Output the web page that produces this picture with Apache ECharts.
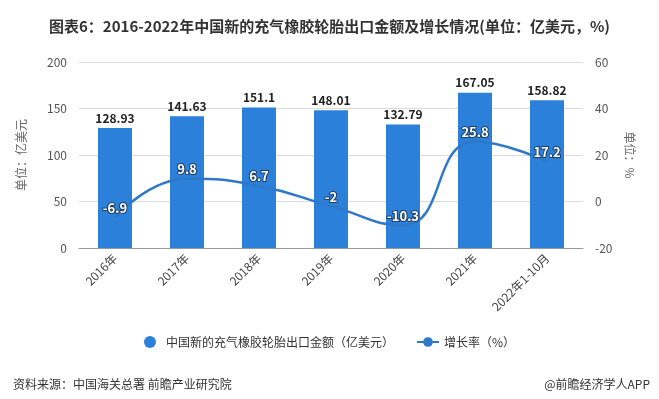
<!DOCTYPE html>
<html>
<head>
<meta charset="utf-8">
<script src="https://cdn.jsdelivr.net/npm/echarts@6/dist/echarts.min.js"></script>
<style>
  html, body { margin: 0; padding: 0; background: #fff; }
  #chart { width: 659px; height: 399px; }
</style>
</head>
<body>
<div id="chart"></div>
<script>
// 数据
var categories = ['2016年', '2017年', '2018年', '2019年', '2020年', '2021年', '2022年1-10月'];
var exportValues = [128.93, 141.63, 151.1, 148.01, 132.79, 167.05, 158.82];
var growthRates = [-6.9, 9.8, 6.7, -2, -10.3, 25.8, 17.2];
var barName = '中国新的充气橡胶轮胎出口金额（亿美元）';
var lineName = '增长率（%）';

var font = '"Noto Sans CJK SC", "Microsoft YaHei", sans-serif';
var blue = '#2b80da';

var myChart = echarts.init(document.getElementById('chart'));
var option = {
  textStyle: { fontFamily: font },
  title: [
    {
      text: '图表6：2016-2022年中国新的充气橡胶轮胎出口金额及增长情况(单位：亿美元，%)',
      left: 'center',
      top: 14,
      textStyle: { fontSize: 15, fontWeight: 'bold', color: '#333', fontFamily: font }
    },
    {
      text: '资料来源：中国海关总署 前瞻产业研究院',
      left: 8,
      top: 373,
      textStyle: { fontSize: 12, fontWeight: 'normal', color: '#333', fontFamily: font }
    },
    {
      text: '@前瞻经济学人APP',
      right: 4,
      top: 373,
      textStyle: { fontSize: 12, fontWeight: 'normal', color: '#333', fontFamily: font }
    }
  ],
  grid: { left: 79, right: 76, top: 62, bottom: 151 },
  legend: {
    bottom: 46,
    left: 'center',
    itemGap: 22,
    itemWidth: 22,
    itemHeight: 12,
    textStyle: { fontSize: 12, color: '#333', fontFamily: font },
    data: [
      { name: barName, icon: 'circle' },
      { name: lineName }
    ]
  },
  xAxis: {
    type: 'category',
    data: categories,
    axisLine: { lineStyle: { color: '#999' } },
    axisTick: { alignWithLabel: true, lineStyle: { color: '#999' } },
    axisLabel: { rotate: 45, color: '#444', fontSize: 12, margin: 8 }
  },
  yAxis: [
    {
      type: 'value',
      min: 0, max: 200, interval: 50,
      name: '单位：亿美元',
      nameLocation: 'middle',
      nameGap: 52,
      nameTextStyle: { color: '#666', fontSize: 12 },
      axisLabel: { color: '#555', fontSize: 12, margin: 12 },
      axisLine: { show: false },
      axisTick: { show: false },
      splitLine: { lineStyle: { color: '#dcdcdc' } }
    },
    {
      type: 'value',
      min: -20, max: 60, interval: 20,
      name: '单位：%',
      nameLocation: 'middle',
      nameRotate: -90,
      nameGap: 40,
      nameTextStyle: { color: '#666', fontSize: 12 },
      axisLabel: { color: '#555', fontSize: 12, margin: 12 },
      axisLine: { show: false },
      axisTick: { show: false },
      splitLine: { show: false }
    }
  ],
  series: [
    {
      name: barName,
      type: 'bar',
      data: exportValues,
      barWidth: 34,
      itemStyle: { color: blue },
      label: {
        show: true,
        position: 'top',
        distance: 4,
        color: '#222',
        fontWeight: 'bold',
        fontSize: 12
      }
    },
    {
      name: lineName,
      type: 'line',
      yAxisIndex: 1,
      data: growthRates,
      smooth: true,
      showSymbol: true,
      symbol: 'circle',
      symbolSize: 0.1,
      itemStyle: { color: '#2f78c9' },
      lineStyle: { color: '#2f78c9', width: 2.5 },
      label: {
        show: true,
        position: 'top',
        distance: 3,
        color: '#fff',
        fontWeight: 'bold',
        fontSize: 13,
        textBorderColor: '#1d3f66',
        textBorderWidth: 2
      }
    }
  ]
};
myChart.setOption(option);
</script>
</body>
</html>
